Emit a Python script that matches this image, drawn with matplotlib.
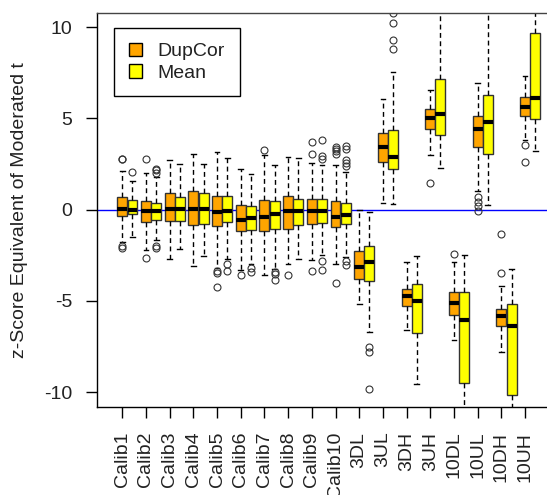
import numpy as np
import matplotlib
matplotlib.use('Agg')
import matplotlib.pyplot as plt
from matplotlib.patches import Patch

plt.rcParams['font.family'] = ['Liberation Sans', 'DejaVu Sans']

categories = ["Calib1", "Calib2", "Calib3", "Calib4", "Calib5", "Calib6", "Calib7",
              "Calib8", "Calib9", "Calib10", "3DL", "3UL", "3DH", "3UH",
              "10DL", "10UL", "10DH", "10UH"]
series_names = ["DupCor", "Mean"]

# DupCor (orange)
dup_q1 = [-0.37, -0.68, -0.64, -0.86, -0.91, -1.17, -1.17, -1.04, -0.80, -0.95,
          -3.78, 2.61, -5.30, 4.44, -5.75, 3.43, -6.39, 5.13]
dup_med = [0.05, -0.08, 0.02, 0.05, -0.15, -0.59, -0.40, -0.09, -0.07, -0.40,
           -3.14, 3.43, -4.73, 5.02, -5.10, 4.40, -5.83, 5.62]
dup_q3 = [0.69, 0.47, 0.93, 1.02, 0.73, 0.27, 0.55, 0.73, 0.58, 0.45,
          -2.27, 4.20, -4.33, 5.50, -4.51, 5.13, -5.43, 6.17]
dup_wlo = [-1.80, -2.23, -2.69, -3.10, -3.20, -3.33, -3.60, -3.00, -2.74, -2.96,
           -5.15, 0.36, -6.58, 3.01, -7.12, 1.00, -7.80, 3.80]
dup_whi = [2.10, 2.03, 2.70, 3.07, 3.16, 2.25, 2.98, 2.88, 2.55, 2.43,
           -0.04, 6.08, -2.87, 6.54, -2.87, 6.94, -4.20, 7.30]
dup_fliers = [[2.75, 2.80, -2.00, -2.10], [2.80, -2.63], [], [],
              [-3.38, -3.45, -4.24], [-3.56], [3.25], [-3.60],
              [3.07, 3.70, -3.38], [3.07, 3.20, 3.30, 3.43, -4.02],
              [], [], [], [1.48], [-2.41], [0.69, 0.42, 0.18, -0.08],
              [-3.45, -1.32], [3.56, 2.61]]

# Mean (yellow)
mean_q1 = [-0.26, -0.59, -0.64, -0.77, -0.68, -1.10, -1.04, -0.86, -0.73, -0.80,
           -3.91, 2.25, -6.74, 4.11, -9.50, 3.07, -10.14, 4.99]
mean_med = [0.00, -0.08, 0.02, 0.05, -0.09, -0.46, -0.26, -0.09, -0.07, -0.31,
            -2.87, 2.88, -5.00, 5.22, -6.03, 4.80, -6.39, 6.12]
mean_q3 = [0.55, 0.36, 0.69, 0.91, 0.73, 0.20, 0.45, 0.60, 0.60, 0.36,
           -1.99, 4.38, -4.06, 7.18, -4.51, 6.30, -5.15, 9.68]
mean_wlo = [-1.50, -1.68, -2.14, -2.56, -2.69, -2.96, -3.23, -2.72, -2.47, -2.60,
            -6.70, 0.29, -9.54, 2.28, -12.0, 0.24, -12.0, 3.20]
mean_whi = [1.55, 1.79, 2.52, 2.48, 2.83, 1.97, 2.43, 2.85, 2.43, 2.06,
            -0.13, 7.54, -2.56, 12.0, -2.50, 12.0, -3.23, 12.0]
mean_fliers = [[2.06], [2.00, 2.15, 2.25, -2.00, -2.10], [], [],
               [-3.00, -3.35], [-3.20, -3.42], [-3.42, -3.55, -3.87], [],
               [2.80, 2.92, 3.80, -2.82, -3.33],
               [2.40, 2.55, 2.70, 3.30, 3.50, -2.80, -3.05],
               [-7.53, -7.80, -9.85], [8.82, 9.32, 10.25, 10.75], [], [], [], [], [], []]

y_ticks = [-10, -5, 0, 5, 10]


def make_stats(q1, med, q3, wlo, whi, fliers):
    return [dict(q1=a, med=b, q3=c, whislo=d, whishi=e, fliers=f)
            for a, b, c, d, e, f in zip(q1, med, q3, wlo, whi, fliers)]


stats_dup = make_stats(dup_q1, dup_med, dup_q3, dup_wlo, dup_whi, dup_fliers)
stats_mean = make_stats(mean_q1, mean_med, mean_q3, mean_wlo, mean_whi, mean_fliers)

fig = plt.figure(figsize=(5.47, 4.95), dpi=100)
ax = fig.add_axes([97 / 547, (495 - 406.7) / 495, (550 - 97) / 547, (406.7 - 12.7) / 495])

n = len(categories)
pos = np.arange(1, n + 1)
offset = 0.43
width = 0.42

ax.axhline(0, color='#0000ff', lw=1, zorder=1)

common = dict(widths=width, capwidths=0.2, patch_artist=True, manage_ticks=False,
              showfliers=True,
              boxprops=dict(edgecolor='#333333', linewidth=1),
              whiskerprops=dict(color='black', linestyle=(0, (3.5, 2.5)), linewidth=1),
              capprops=dict(color='black', linewidth=1),
              medianprops=dict(color='black', linewidth=3, solid_capstyle='butt'),
              flierprops=dict(marker='o', markerfacecolor='none', markeredgecolor='#333333',
                              markersize=5, markeredgewidth=0.8))

b1 = ax.bxp(stats_dup, positions=pos, **common)
for p in b1['boxes']:
    p.set_facecolor('#FFA500')
b2 = ax.bxp(stats_mean, positions=pos + offset, **common)
for p in b2['boxes']:
    p.set_facecolor('#FFFF00')

ax.set_xlim(1 - 25.3 / 23.69, 1 + (550 - 122.3) / 23.69)
ax.set_ylim(-10.8, 10.79)
ax.set_xticks(pos)
ax.set_xticklabels(categories, rotation=90)
ax.set_yticks(y_ticks)
ax.set_yticklabels([str(t) for t in y_ticks])
ax.tick_params(direction='out', length=8, width=1, pad=10, labelsize=14,
               color='black', labelcolor='#222222')
for s in ax.spines.values():
    s.set_color('black')
    s.set_linewidth(1)
ax.spines['top'].set_color('#444444')

ax.set_ylabel('z-Score Equivalent of Moderated t', fontsize=14, color='#222222')
ax.yaxis.set_label_coords(-0.152, 0.5)

handles = [Patch(facecolor='#FFA500', edgecolor='black'),
           Patch(facecolor='#FFFF00', edgecolor='black')]
leg = ax.legend(handles, series_names, loc='upper left', bbox_to_anchor=(0.0375, 0.961),
                borderaxespad=0, frameon=True, fancybox=False, edgecolor='black',
                framealpha=1, handlelength=0.7, handleheight=0.7, handletextpad=0.8,
                borderpad=0.75, labelspacing=0.2, fontsize=14)
leg.get_frame().set_linewidth(1)
for t in leg.get_texts():
    t.set_color('#222222')

fig.savefig('out.png', dpi=100)
